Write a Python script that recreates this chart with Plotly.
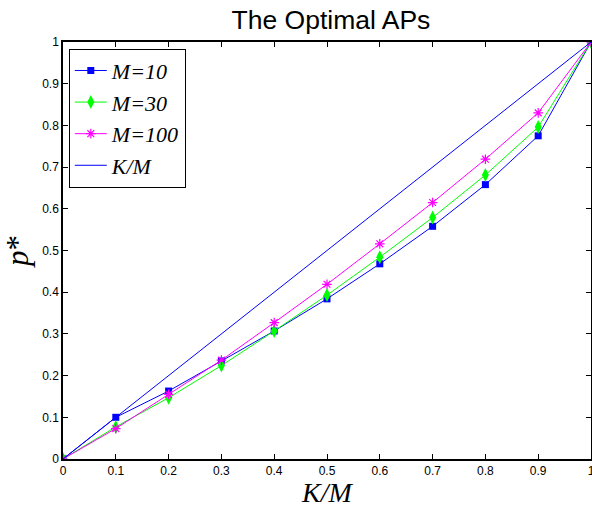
import plotly.graph_objects as go

# K/M ratios on the x axis
k_over_m = [0, 0.1, 0.2, 0.3, 0.4, 0.5, 0.6, 0.7, 0.8, 0.9, 1.0]

# optimal access probabilities p* for each population size
p_m10 = [0, 0.100, 0.163, 0.235, 0.307, 0.384, 0.468, 0.558, 0.658, 0.775, 1.0]
p_m30 = [0, 0.077, 0.147, 0.224, 0.307, 0.393, 0.484, 0.579, 0.681, 0.796, 1.0]
p_m100 = [0, 0.073, 0.155, 0.237, 0.327, 0.419, 0.516, 0.615, 0.719, 0.830, 1.0]

# reference diagonal
diag_x = [0, 1]
diag_y = [0, 1]

x_ticks = [0, 0.1, 0.2, 0.3, 0.4, 0.5, 0.6, 0.7, 0.8, 0.9, 1]
x_tick_text = ["0", "0.1", "0.2", "0.3", "0.4", "0.5", "0.6", "0.7", "0.8", "0.9", "1"]
y_ticks = x_ticks
y_tick_text = x_tick_text

fig = go.Figure()
fig.add_trace(go.Scatter(
    x=k_over_m, y=p_m10, name="<i>M=10</i>", mode="lines+markers",
    line=dict(color="#0000ff", width=1),
    marker=dict(symbol="square", size=7, color="#0000ff"),
))
fig.add_trace(go.Scatter(
    x=k_over_m, y=p_m30, name="<i>M=30</i>", mode="lines+markers",
    line=dict(color="#00ff00", width=1),
    marker=dict(symbol="diamond-tall", size=10, color="#00ff00"),
))
fig.add_trace(go.Scatter(
    x=k_over_m, y=p_m100, name="<i>M=100</i>", mode="lines+markers",
    line=dict(color="#ff00ff", width=1),
    marker=dict(symbol="asterisk-open", size=8, color="#ff00ff",
                line=dict(color="#ff00ff", width=1.2)),
))
fig.add_trace(go.Scatter(
    x=diag_x, y=diag_y, name="<i>K/M</i>", mode="lines",
    line=dict(color="#0000ff", width=1),
))

axis_common = dict(
    showgrid=False, zeroline=False, showline=True, linecolor="black", linewidth=1.5,
    mirror="ticks", ticks="inside", ticklen=5, tickcolor="black", tickwidth=1,
    ticklabeloverflow="allow", automargin=False,
    tickfont=dict(family="Arial, Liberation Sans", size=12, color="black"),
)

fig.update_layout(
    width=592, height=508,
    margin=dict(l=63, r=1, t=42, b=49),
    paper_bgcolor="white", plot_bgcolor="white",
    title=dict(text="The Optimal APs", x=0.559, xanchor="center", y=0.961, yanchor="middle",
               font=dict(family="Arial, Liberation Sans", size=26.5, color="black")),
    xaxis=dict(range=[0, 1], tickvals=x_ticks, ticktext=x_tick_text,
               title=dict(text="<i>K/M</i>", standoff=6,
                          font=dict(family="Times New Roman, Liberation Serif", size=28, color="black")),
               **axis_common),
    yaxis=dict(range=[0, 1], tickvals=y_ticks, ticktext=y_tick_text,
               title=dict(text="<i>p</i>*", standoff=6,
                          font=dict(family="Times New Roman, Liberation Serif", size=31, color="black")),
               **axis_common),
    legend=dict(x=0.011, y=0.984, xanchor="left", yanchor="top",
                bgcolor="white", bordercolor="black", borderwidth=1,
                font=dict(family="Times New Roman, Liberation Serif", size=22, color="black"),
                tracegroupgap=0, itemwidth=32),
    showlegend=True,
)

fig.write_html("out.html")
